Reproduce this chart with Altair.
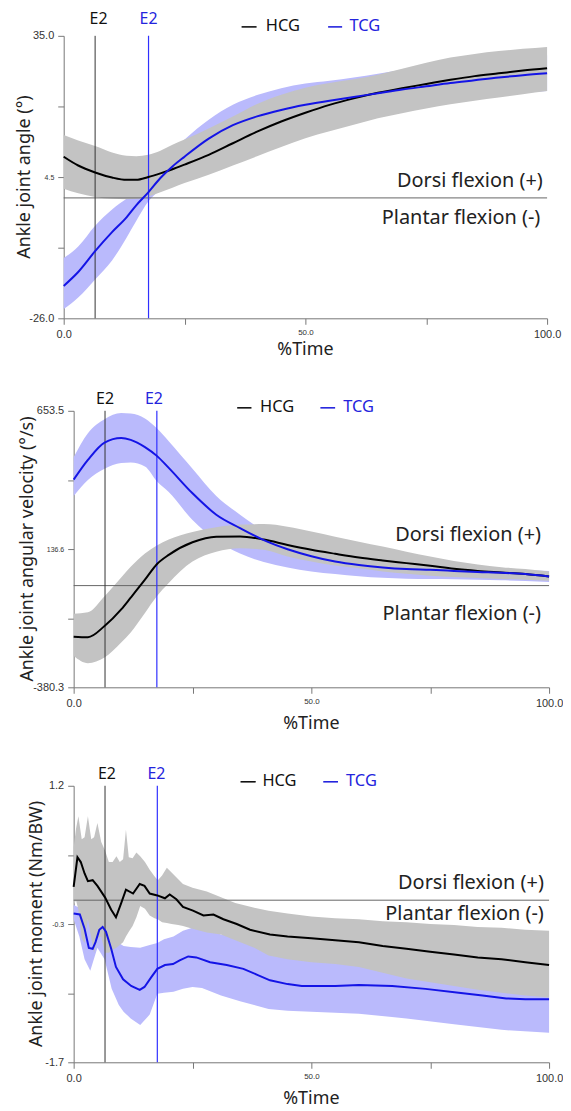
import altair as alt
import pandas as pd

FONT = "Noto Sans"
TICK_FONT = "Liberation Sans"
BLUE = "#1414e6"
BLUE_E2 = "#3030ff"
BLUE_TEXT = "#2424dd"
BLUE_BAND = "#babafc"
GRAY_BAND = "#c3c3c3"
AXIS_COLOR = "#777777"

# ---------------- data: panel 1 (angle) ----------------
X1 = [0, 3, 6.5, 10, 13, 15, 17.5, 20, 22.5, 25, 30, 35, 40, 45, 50, 55, 60, 65, 70, 75, 80, 85, 90, 95, 100]
P1_HCG_MEAN = [8.9, 7.0, 5.5, 4.4, 3.9, 3.9, 4.5, 5.3, 6.2, 7.2, 9.3, 11.8, 14.3, 16.5, 18.4, 20.1, 21.5, 22.7, 23.7, 24.6, 25.5, 26.3, 26.9, 27.5, 28.0]
P1_HCG_UP = [13.6, 12.4, 11.2, 9.8, 9.1, 9.0, 9.3, 10.2, 11.5, 12.6, 15.0, 17.6, 20.3, 22.3, 23.8, 24.8, 25.6, 26.6, 27.9, 29.2, 30.3, 31.1, 31.7, 32.2, 32.6]
P1_HCG_LO = [2.0, 1.0, 0.2, -0.2, -0.3, -0.2, 0.3, 1.2, 2.2, 3.2, 5.0, 7.0, 9.0, 11.0, 12.9, 14.4, 15.8, 17.2, 18.3, 19.3, 20.2, 21.0, 21.7, 22.4, 23.1]
P1_TCG_MEAN = [-19.0, -16.0, -11.5, -7.4, -4.2, -1.6, 1.2, 4.3, 6.8, 8.9, 12.8, 15.7, 17.6, 19.0, 20.1, 21.0, 21.8, 22.6, 23.4, 24.1, 24.8, 25.4, 26.0, 26.5, 26.9]
P1_TCG_UP = [-13.0, -10.5, -6.0, -2.5, -0.2, 1.3, 3.3, 6.8, 10.0, 12.6, 16.9, 20.1, 22.2, 23.7, 24.7, 25.3, 26.0, 26.8, 27.6, 28.3, 29.0, 29.6, 30.1, 30.5, 30.8]
P1_TCG_LO = [-24.0, -21.5, -17.6, -13.5, -8.6, -5.0, -0.8, 1.8, 3.8, 5.4, 9.2, 11.8, 13.6, 15.1, 16.1, 17.1, 17.9, 18.8, 19.6, 20.4, 21.1, 21.7, 22.2, 22.7, 23.1]

# ---------------- data: panel 2 (angular velocity) ----------------
X2 = [0, 3, 6.5, 10, 12, 15, 17.5, 20, 25, 30, 35, 40, 45, 50, 55, 60, 65, 70, 75, 80, 85, 90, 95, 100]
P2_HCG_MEAN = [-191, -193, -151, -89, -45, 22, 80, 115, 162, 183, 184, 172, 152, 134, 119, 105, 94, 84, 74, 63, 55, 49, 43, 34]
P2_HCG_UP = [-105, -100, -40, 30, 70, 120, 150, 172, 200, 218, 228, 230, 220, 202, 183, 164, 146, 127, 109, 92, 79, 69, 62, 53]
P2_HCG_LO = [-263, -290, -269, -213, -175, -102, -40, 10, 90, 127, 140, 134, 109, 90, 75, 65, 53, 44, 37, 32, 28, 25, 22, 18]
P2_TCG_MEAN = [396, 470, 535, 552, 545, 518, 485, 440, 345, 265, 215, 170, 136, 110, 90, 77, 68, 62, 59, 55, 51, 48, 43, 34]
P2_TCG_UP = [480, 570, 622, 645, 643, 625, 588, 540, 437, 335, 265, 205, 160, 127, 105, 89, 78, 72, 68, 64, 62, 59, 57, 55]
P2_TCG_LO = [335, 395, 437, 458, 460, 445, 390, 350, 245, 170, 120, 88, 68, 53, 43, 35, 29, 26, 25, 24, 22, 20, 17, 13]

# ---------------- data: panel 3 (moment) ----------------
X3_HCG = [0, 0.8, 1.5, 2.3, 3, 4, 5, 6.6, 7.9, 8.9, 10, 11, 12.5, 13.9, 14.9, 16, 17.6, 19.2, 20.2, 21.6, 23, 25.1, 27.3, 29.4, 31.5, 34.3, 37.1, 41.3, 45, 50, 55, 60, 65, 70, 75, 80, 85, 90, 95, 100]
P3_HCG_MEAN = [0.14, 0.45, 0.40, 0.28, 0.20, 0.21, 0.15, 0.03, -0.10, -0.18, -0.03, 0.11, 0.07, 0.17, 0.15, 0.07, 0.05, 0.02, 0.06, 0.01, -0.07, -0.11, -0.16, -0.15, -0.20, -0.25, -0.31, -0.36, -0.38, -0.40, -0.42, -0.44, -0.48, -0.51, -0.54, -0.57, -0.60, -0.62, -0.65, -0.68]
X3_HCG_BAND = [0, 0.5, 1, 1.7, 2.3, 3, 3.7, 4.3, 5, 5.8, 6.6, 7.4, 8.2, 9, 9.7, 10.4, 11, 11.6, 12.4, 13.2, 14, 15, 16, 17, 17.7, 18.6, 19.6, 20.6, 22, 23, 25, 28, 31, 34, 38, 41, 45, 50, 55, 60, 65, 70, 75, 80, 85, 90, 95, 100]
P3_HCG_UP = [0.55, 0.75, 0.88, 0.64, 0.66, 0.88, 0.64, 0.66, 0.81, 0.61, 0.52, 0.40, 0.40, 0.46, 0.40, 0.43, 0.74, 0.45, 0.44, 0.50, 0.46, 0.40, 0.32, 0.25, 0.21, 0.26, 0.34, 0.29, 0.22, 0.17, 0.13, 0.09, 0.03, -0.03, -0.08, -0.11, -0.14, -0.17, -0.19, -0.20, -0.22, -0.23, -0.25, -0.26, -0.28, -0.29, -0.31, -0.32]
P3_HCG_LO = [-0.05, 0.0, -0.10, -0.40, -0.45, -0.20, -0.40, -0.55, -0.40, -0.38, -0.55, -0.55, -0.52, -0.50, -0.47, -0.44, -0.38, -0.33, -0.27, -0.18, -0.06, -0.09, -0.16, -0.19, -0.20, -0.23, -0.24, -0.25, -0.26, -0.27, -0.30, -0.34, -0.36, -0.42, -0.50, -0.58, -0.62, -0.65, -0.67, -0.70, -0.76, -0.82, -0.86, -0.90, -0.94, -0.97, -1.00, -1.02]
X3_TCG = [0, 1.3, 2.3, 3.2, 4.0, 4.6, 5.4, 6.1, 6.8, 7.9, 8.9, 10.4, 12.1, 13.9, 14.9, 16.3, 17.6, 19.2, 20.9, 22.3, 24.1, 25.8, 28.7, 32.2, 35.7, 38.5, 41.3, 45, 48, 55, 60, 67, 74, 81, 86, 91, 95, 100]
P3_TCG_MEAN = [-0.14, -0.15, -0.30, -0.50, -0.51, -0.44, -0.31, -0.28, -0.33, -0.51, -0.70, -0.83, -0.90, -0.94, -0.91, -0.81, -0.72, -0.68, -0.67, -0.63, -0.59, -0.60, -0.65, -0.68, -0.72, -0.78, -0.84, -0.88, -0.90, -0.90, -0.89, -0.90, -0.93, -0.97, -1.00, -1.03, -1.04, -1.04]
X3_TCG_BAND = [0, 1.2, 2.3, 3.5, 5, 6.5, 8, 9.5, 10.5, 12, 14, 16, 17.6, 19, 21, 23, 25, 27, 29, 31, 35, 41, 45, 50, 60, 70, 80, 90, 100]
P3_TCG_UP = [-0.05, -0.08, -0.22, -0.20, -0.20, -0.24, -0.38, -0.45, -0.48, -0.49, -0.50, -0.47, -0.45, -0.41, -0.38, -0.32, -0.29, -0.30, -0.32, -0.36, -0.39, -0.46, -0.52, -0.55, -0.56, -0.58, -0.63, -0.69, -0.71]
P3_TCG_LO = [-0.20, -0.38, -0.62, -0.74, -0.50, -0.62, -0.93, -1.10, -1.17, -1.24, -1.31, -1.20, -0.98, -0.97, -0.96, -0.93, -0.91, -0.92, -0.96, -1.00, -1.06, -1.14, -1.16, -1.17, -1.19, -1.24, -1.30, -1.36, -1.39]

# ---------------- axes / labels ----------------
X_TICKS = [0, 25, 50, 75, 100]
X_TICK_LABELS = ["0.0", "", "50.0", "", "100.0"]
Y1_TICKS = [-26.0, -10.75, 4.5, 19.75, 35.0]
Y1_LABELS = ["-26.0", "", "4.5", "", "35.0"]
Y2_TICKS = [-380.3, -121.85, 136.6, 395.05, 653.5]
Y2_LABELS = ["-380.3", "", "136.6", "", "653.5"]
Y3_TICKS = [-1.7, -0.975, -0.25, 0.475, 1.2]
Y3_LABELS = ["-1.7", "", "-0.3", "", "1.2"]

TITLES = ["Ankle joint angle (°)", "Ankle joint angular velocity (°/s)", "Ankle joint moment (Nm/BW)"]
X_TITLE = "%Time"
GROUPS = ["HCG", "TCG"]
E2_X = [[6.5, 17.55], [6.6, 17.5], [6.6, 17.6]]
E2_LABEL_X = [[7.2, 17.55], [6.6, 16.9], [7.0, 17.4]]
LEGEND_DASH_X = [[[36.8, 39.9], [54.7, 57.6]], [[34.4, 37.4], [51.9, 55.0]], [[35.1, 38.3], [52.5, 55.6]]]
LEGEND_LABEL_X = [[41.8, 59.1], [39.2, 56.7], [39.7, 57.3]]
DORSI = "Dorsi flexion (+)"
PLANTAR = "Plantar flexion (-)"


def label_expr(ticks, labels):
    expr = "''"
    for t, l in zip(ticks, labels):
        expr = f"abs(datum.value - ({t})) < 1e-6 ? '{l}' : " + expr
    return expr


def make_panel(i, w, h, x0, ydom, yticks, ylabels, band_tcg, band_hcg, mean_tcg, mean_hcg,
               interp, e2_y, leg_y, dorsi_x, plantar_x, dorsi_dy, plantar_dy,
               ytitle_x, xtitle_dy):
    xs = alt.Scale(domain=[0, 100], nice=False, zero=False, range=[x0, w])
    ys = alt.Scale(domain=ydom, nice=False, zero=False)
    mid_x = X_TICKS[2]
    mid_y = yticks[2]
    xaxis = alt.Axis(values=X_TICKS, labelExpr=label_expr(X_TICKS, X_TICK_LABELS), title=None,
                     grid=False, tickSize=6, domainColor=AXIS_COLOR, tickColor=AXIS_COLOR,
                     labelColor="#333333", labelFont=TICK_FONT,
                     labelFontSize={"condition": {"test": f"datum.value == {mid_x}", "value": 8}, "value": 11},
                     labelPadding=4, labelFlush=False, labelOverlap=False)
    yaxis = alt.Axis(values=yticks, labelExpr=label_expr(yticks, ylabels), title=None,
                     grid=False, tickSize=6, domainColor=AXIS_COLOR, tickColor=AXIS_COLOR,
                     labelColor="#333333", labelFont=TICK_FONT, offset=-x0,
                     labelFontSize={"condition": {"test": f"abs(datum.value - ({mid_y})) < 1e-6", "value": 7}, "value": 11},
                     labelPadding=4, labelFlush=False, labelOverlap=False)

    X = lambda f: alt.X(f, type="quantitative", scale=xs, axis=xaxis)
    Y = lambda f: alt.Y(f, type="quantitative", scale=ys, axis=yaxis)
    XD = lambda v: alt.XDatum(v, scale=xs, axis=xaxis)
    YD = lambda v: alt.YDatum(v, scale=ys, axis=yaxis)

    dummy = pd.DataFrame({"a": [0]})
    tb = alt.Chart(band_tcg).mark_area(color=BLUE_BAND, opacity=1, interpolate=interp).encode(
        x=X("x"), y=Y("lo"), y2="hi")
    hb = alt.Chart(band_hcg).mark_area(color=GRAY_BAND, opacity=1, interpolate=interp).encode(
        x=X("x"), y=Y("lo"), y2="hi")
    zero = alt.Chart(dummy).mark_rule(color="#666666", strokeWidth=1).encode(
        x=XD(0), x2=alt.X2Datum(100), y=YD(0))
    e2_black = alt.Chart(dummy).mark_rule(color="#333333", strokeWidth=1).encode(x=XD(E2_X[i][0]))
    e2_blue = alt.Chart(dummy).mark_rule(color=BLUE_E2, strokeWidth=1.2).encode(x=XD(E2_X[i][1]))
    lh = alt.Chart(mean_hcg).mark_line(color="#000000", strokeWidth=2, interpolate=interp).encode(
        x=X("x"), y=Y("m"))
    lt = alt.Chart(mean_tcg).mark_line(color=BLUE, strokeWidth=2, interpolate=interp).encode(
        x=X("x"), y=Y("m"))
    e2 = pd.DataFrame({"x": E2_LABEL_X[i], "label": ["E2", "E2"], "tcol": ["#111111", BLUE_TEXT]})
    e2text = alt.Chart(e2).mark_text(font=FONT, fontSize=16, baseline="middle", align="center").encode(
        x=X("x"), y=alt.value(e2_y), text="label:N", color=alt.Color("tcol:N", scale=None))
    dash = pd.DataFrame({"x": [d[0] for d in LEGEND_DASH_X[i]], "x2": [d[1] for d in LEGEND_DASH_X[i]],
                         "col": ["#111111", BLUE_TEXT]})
    legdash = alt.Chart(dash).mark_rule(strokeWidth=1.6).encode(
        x=X("x"), x2="x2", y=alt.value(leg_y + 1), color=alt.Color("col:N", scale=None))
    leg = pd.DataFrame({"x": LEGEND_LABEL_X[i], "label": GROUPS, "col": ["#111111", BLUE_TEXT]})
    legtext = alt.Chart(leg).mark_text(font=FONT, fontSize=16.5, baseline="middle", align="left").encode(
        x=X("x"), y=alt.value(leg_y), text="label:N", color=alt.Color("col:N", scale=None))
    dorsi = alt.Chart(dummy).mark_text(font=FONT, fontSize=20, baseline="middle", align="right",
                                       dy=dorsi_dy, color="#222222", text=DORSI).encode(
        x=XD(dorsi_x), y=YD(0))
    plantar = alt.Chart(dummy).mark_text(font=FONT, fontSize=20, baseline="middle", align="right",
                                         dy=plantar_dy, color="#222222", text=PLANTAR).encode(
        x=XD(plantar_x), y=YD(0))
    ytitle = alt.Chart(dummy).mark_text(font=FONT, fontSize=18, baseline="middle", align="center",
                                        angle=270, color="#222222", text=TITLES[i]).encode(
        x=alt.value(ytitle_x), y=alt.value(h / 2))
    xtitle = alt.Chart(dummy).mark_text(font=FONT, fontSize=18, baseline="middle", align="center",
                                        color="#222222", text=X_TITLE).encode(
        x=XD(50), y=alt.value(h + xtitle_dy))
    # invisible frame so that every panel has the same outer bounds
    anchor = alt.Chart(dummy).mark_rule(opacity=0, strokeWidth=1).encode(
        x=alt.value(-56), x2=alt.value(-56), y=alt.value(-25), y2=alt.value(326))

    return alt.layer(tb, hb, zero, e2_black, e2_blue, lh, lt, e2text, legdash, legtext, dorsi, plantar,
                     ytitle, xtitle, anchor).properties(width=w, height=h)


def band(x, lo, hi):
    return pd.DataFrame({"x": x, "lo": lo, "hi": hi})


def mean(x, m):
    return pd.DataFrame({"x": x, "m": m})


p1 = make_panel(0, 486, 284, 0, [-26.0, 35.0], Y1_TICKS, Y1_LABELS,
                band(X1, P1_TCG_LO, P1_TCG_UP), band(X1, P1_HCG_LO, P1_HCG_UP),
                mean(X1, P1_TCG_MEAN), mean(X1, P1_HCG_MEAN), "monotone",
                -16.5, -10, 99.1, 98.6, -17, 20, -38.5, 32)
p2 = make_panel(1, 488, 278, 10, [-380.3, 653.5], Y2_TICKS, Y2_LABELS,
                band(X2, P2_TCG_LO, P2_TCG_UP), band(X2, P2_HCG_LO, P2_HCG_UP),
                mean(X2, P2_TCG_MEAN), mean(X2, P2_HCG_MEAN), "monotone",
                -12, -4, 98.3, 98.3, -51, 29, -36, 37)
p3 = make_panel(2, 488, 278, 10, [-1.7, 1.2], Y3_TICKS, Y3_LABELS,
                band(X3_TCG_BAND, P3_TCG_LO, P3_TCG_UP), band(X3_HCG_BAND, P3_HCG_LO, P3_HCG_UP),
                mean(X3_TCG, P3_TCG_MEAN), mean(X3_HCG, P3_HCG_MEAN), "linear",
                -12, -5, 98.9, 98.9, -17, 14, -26.5, 37)

chart = alt.concat(p1, p2, p3, columns=1, spacing=26).resolve_scale(
    x="independent", y="independent").properties(
    padding={"left": 0, "top": 0, "right": 0, "bottom": 0},
    background="white").configure_view(stroke=None)

chart.save("out.html", embed_options={"renderer": "svg", "actions": False})
